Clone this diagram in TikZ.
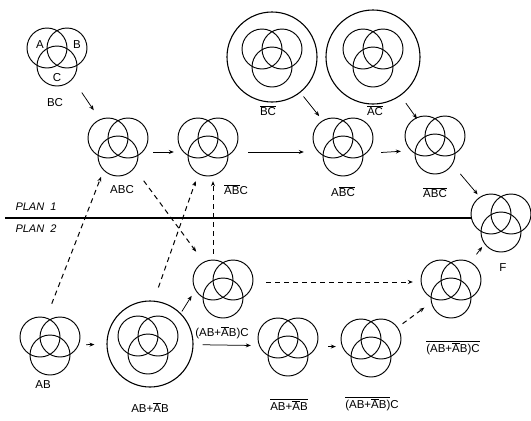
\documentclass[tikz,border=0pt]{standalone}
\usepackage{fontspec}
\setmainfont{Liberation Sans}
\usetikzlibrary{positioning,arrows.meta,calc}
\newcommand{\nt}[1]{\ensuremath{\overline{\mbox{#1}}}}
% a venn diagram of three sets, as a named node
\newcommand{\venn}[2]{%
  \node[vennbox] (#1) at (#2) {};
  \foreach \dx/\dy in {-10/-8,10/-8,0/10}
    \draw[vennline] ($(#1)+(\dx,\dy)$) circle (20pt);}

\begin{document}
\begin{tikzpicture}[x=1pt,y=-1pt,font=\fontsize{11.5}{13}\selectfont,
  vennbox/.style={circle,minimum size=60pt,inner sep=0pt},
  vennline/.style={line width=0.95pt},
  ring/.style={circle,draw,line width=1.1pt,inner sep=0pt},
  lab/.style={inner sep=1pt},
  ar/.style={-{Stealth[length=5pt,width=4pt]},line width=0.75pt},
  dar/.style={ar,dash pattern=on 5pt off 4pt,line width=1pt},
  planline/.style={line width=2.4pt},
  plan/.style={font=\fontsize{11}{13}\selectfont\itshape,anchor=west}]
\useasboundingbox (0,0) rectangle (531,421);

% plan 1
\venn{top}{57,56}
\node (la) at ($(top)+(-17,-11)$) {A};
\node (lb) at ($(top)+(20,-11)$) {B};
\node (lc) at ($(top)+(0,22)$) {C};
\venn{abc}{118,146}
\venn{nabc}{208,146}
\venn{bc}{272,57}
\node[ring,minimum size=90pt] (bcring) at (bc) {};
\venn{ac}{373,57}
\node[ring,minimum size=94pt] (acring) at (ac) {};
\venn{abbcc}{343,146}
\venn{nanbnc}{435,144}
\venn{f}{501,222}

\node[lab] (bcl) at (55,103) {BC};
\node[lab] (abcl) at (122,190) {ABC};
\node[lab] (nabcl) at (236,190) {\nt{A}\nt{B}C};
\node[lab] (bcbl) at (268,111) {\nt{B}\nt{C}};
\node[lab] (acbl) at (375,111) {\nt{A}\nt{C}};
\node[lab] (abbccl) at (343,192) {A\nt{B}\nt{C}};
\node[lab] (nanbncl) at (435,193) {\nt{A}\nt{B}\nt{C}};
\node[lab] (fl) at (503,268) {F};

\draw[ar,shorten <=14pt,shorten >=13pt] (top) -- (abc);
\draw[ar,shorten <=5pt,shorten >=4pt] ([yshift=-6pt]abc.east) -- ([yshift=-6pt]nabc.west);
\draw[ar,shorten <=10pt,shorten >=9pt] ([yshift=-6pt]nabc.east) -- ([yshift=-6pt]abbcc.west);
\draw[ar,shorten <=5pt,shorten >=8pt] (bcring) -- (abbcc);
\draw[ar,shorten <=9pt,shorten >=1pt] (acring) -- (nanbnc);
\draw[ar,shorten <=8pt,shorten >=4pt] ([yshift=-7pt]abbcc.east) -- ([yshift=-7pt]nanbnc.west);
\draw[ar,shorten <=9pt,shorten >=6pt] (nanbnc) -- (f);

% the two plans
\coordinate (planstart) at (5,218);
\draw[planline] (planstart) -- (planstart -| f.west);
\node[plan] (plan1) at (12,207) {PLAN\ \ 1};
\node[plan] (plan2) at (12,229) {PLAN\ \ 2};

% plan 2
\venn{ab}{50,345}
\venn{abv}{148,344}
\node[ring,minimum size=86pt] (abring) at (150,344) {};
\venn{mid}{223,288}
\venn{lm}{288,346}
\venn{lo}{371,347}
\venn{lr}{451,288}

\node[lab] (abl) at (43,385) {AB};
\node[lab] (abringl) at (150,408) {AB+\nt{A}B};
\node[lab] (midl) at (222,333) {(AB+\nt{A}B)C};
\node[lab] (lml) at (289,405) {\nt{AB+\nt{A}B}};
\node[lab] (lol) at (372,404) {\nt{(AB+\nt{A}B)}C};
\node[lab] (lrl) at (453,348) {\nt{(AB+\nt{A}B)C}};

\draw[ar,shorten <=6pt,shorten >=12pt] (ab) -- (abring);
\draw[ar,shorten <=2pt,shorten >=3pt] (abring.45) -- (mid.190);
\draw[ar,shorten <=9pt,shorten >=7pt] (abring) -- (lm);
\draw[ar,shorten <=10pt,shorten >=5pt] (lm) -- (lo);
\draw[dar,shorten <=9pt,shorten >=3pt] (lo) -- (lr);
\draw[ar,shorten <=12pt,shorten >=1pt] (lr) -- (f);
\draw[dar,shorten <=13pt,shorten >=8pt] ([yshift=6pt]mid.east) -- ([yshift=6pt]lr.west);

% links across the plans
\draw[dar,shorten <=13pt,shorten >=15pt] (abc) -- (mid);
\draw[dar,shorten <=14pt,shorten >=7pt] (abring.85) -- (nabc);
\draw[dar,shorten <=12pt,shorten >=5pt] (ab.95) -- (abc.240);
\draw[dar,shorten <=4pt,shorten >=5pt] ([xshift=-10pt]mid.north) -- ([xshift=5pt]nabc.south);
\end{tikzpicture}
\end{document}
